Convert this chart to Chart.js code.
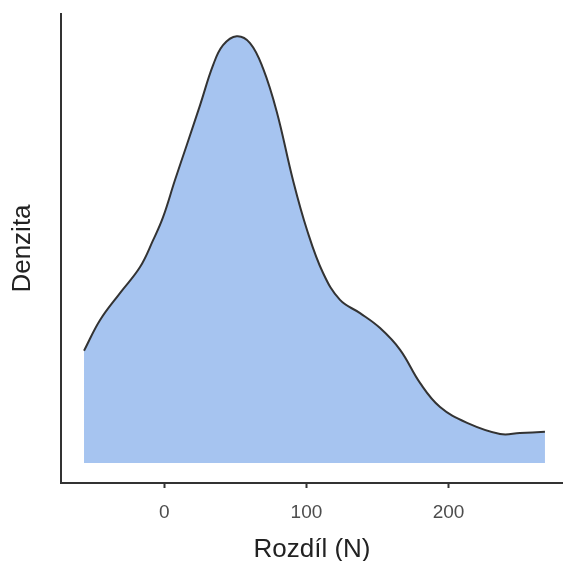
<!DOCTYPE html>
<html>
<head>
<meta charset="utf-8">
<script src="https://cdn.jsdelivr.net/npm/chart.js@4.4.0/dist/chart.umd.min.js"></script>
<style>
    html, body { margin: 0; padding: 0; background: #fff; }
    #wrap { width: 563px; height: 561px; }
</style>
</head>
<body>
<div id="wrap"><canvas id="densityChart"></canvas></div>
<script>
// Density curve (x = Rozdíl in N, y = relative density, peak = 100)
const rozdil = [-56.5, -45.2, -31.2, -17.1, -7.9, -0.9, 7.5, 15.8, 25.1, 34.3, 41.3, 50.9, 60.3, 69.4,
    79.1, 90.5, 100.4, 111.7, 123.6, 137.7, 151.8, 165.9, 180.0, 194.0, 213.0, 236.2, 250.2, 267.8];
const denzita = [26.3, 33.5, 39.8, 45.9, 52.2, 57.6, 66.3, 74.5, 83.8, 93.2, 97.9, 100, 98.4, 92.5,
    82.3, 66.3, 54.6, 44.5, 38.2, 35.1, 31.6, 26.5, 18.7, 13.1, 9.4, 6.8, 7.0, 7.3];
const xTicks = [0, 100, 200];

const axisColor = '#333333';
const fontFamily = '"Liberation Sans", Arial, sans-serif';

const points = rozdil.map((x, i) => ({ x: x, y: denzita[i] }));

new Chart(document.getElementById('densityChart').getContext('2d'), {
    type: 'line',
    data: {
        datasets: [{
            data: points,
            borderColor: '#333333',
            borderWidth: 2,
            backgroundColor: 'rgb(166, 196, 240)',
            fill: 'origin',
            pointRadius: 0,
            tension: 0.4
        }]
    },
    options: {
        responsive: true,
        maintainAspectRatio: false,
        animation: false,
        devicePixelRatio: 1,
        layout: { padding: { top: 14, right: 0, bottom: 0, left: 0 } },
        plugins: {
            legend: { display: false },
            tooltip: { enabled: false }
        },
        scales: {
            x: {
                type: 'linear',
                min: -72.7,
                max: 280.5,
                afterBuildTicks: (scale) => { scale.ticks = xTicks.map(v => ({ value: v })); },
                afterFit: (scale) => { scale.height = 78; },
                grid: { drawOnChartArea: false, drawTicks: true, tickLength: 5, tickColor: axisColor, tickWidth: 2 },
                border: { color: axisColor, width: 2 },
                ticks: { color: '#4d4d4d', font: { family: fontFamily, size: 19 }, padding: 13 },
                title: {
                    display: true,
                    text: 'Rozdíl (N)',
                    color: '#222222',
                    font: { family: fontFamily, size: 26, lineHeight: 0.85 },
                    padding: { top: 0, bottom: 0 }
                }
            },
            y: {
                min: -4.7,
                max: 105.2,
                afterFit: (scale) => { scale.width = 61; },
                grid: { display: false },
                border: { color: axisColor, width: 2 },
                ticks: { display: false },
                title: {
                    display: true,
                    text: 'Denzita',
                    color: '#222222',
                    font: { family: fontFamily, size: 26 },
                    padding: { top: 7, bottom: 0 }
                }
            }
        }
    }
});
</script>
</body>
</html>
